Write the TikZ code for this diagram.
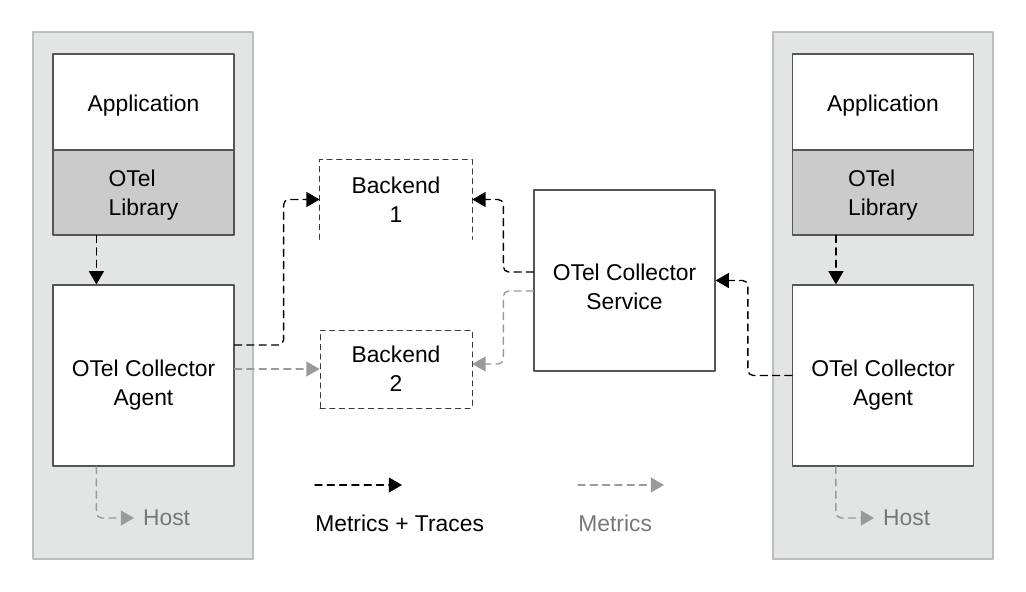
\documentclass[tikz,border=0pt]{standalone}
\usepackage{fontspec}
\setmainfont{Liberation Sans}
\usetikzlibrary{arrows.meta}
\definecolor{panelfill}{HTML}{E3E4E4}
\definecolor{panelline}{HTML}{BEBEBE}
\definecolor{libfill}{HTML}{CBCBCB}
\definecolor{boxline}{HTML}{555555}
\definecolor{bkline}{HTML}{3A3A3A}
\definecolor{metgray}{HTML}{9A9A9A}
\definecolor{txtgray}{HTML}{777777}
\begin{document}
\begin{tikzpicture}[x=0.02cm,y=-0.02cm,line cap=round,line join=round,
  font=\fontsize{13}{16.5}\selectfont,
  panel/.style={draw=panelline,fill=panelfill,line width=0.8pt,minimum width=4.4cm,minimum height=10.54cm,inner sep=0pt},
  box/.style={draw=boxline,fill=white,line width=0.7pt,minimum width=3.62cm,inner sep=0pt},
  boxtext/.style={inner sep=0pt,align=center},
  bedash/.style={draw=bkline,line width=0.5pt,dash pattern=on 3pt off 2.5pt},
  mt/.style={draw=black,line width=0.8pt,dash pattern=on 4pt off 3pt,rounded corners=3pt,
    -{Triangle[length=7.5pt,width=8.5pt]}},
  mo/.style={mt,draw=metgray},
  hosttext/.style={text=txtgray,anchor=west,inner xsep=5pt,inner ysep=0pt}]
  \useasboundingbox (0,0) rectangle (1026,591);
  % hosts
  \node[panel] (panelL) at (143,295.5) {};
  \node[panel] (panelR) at (883,295.5) {};
  \node[box,minimum height=1.92cm] (appL) at (143.5,102) {};
  \node[box,minimum height=1.7cm,fill=libfill] (libL) at (143.5,192.5) {};
  \node[box,minimum height=3.62cm] (agentL) at (143.5,375.5) {};
  \node[box,minimum height=1.92cm] (appR) at (883,102) {};
  \node[box,minimum height=1.7cm,fill=libfill] (libR) at (883,192.5) {};
  \node[box,minimum height=3.62cm] (agentR) at (883,375.5) {};
  \node[boxtext] (appLtext) at ([yshift=-0.08cm]appL.center) {Application};
  \node[boxtext,align=left] (libLtext) at ([yshift=-0.06cm]libL.center) {OTel\\Library};
  \node[boxtext] (agentLtext) at ([yshift=-0.19cm]agentL.center) {OTel Collector\\Agent};
  \node[boxtext] (appRtext) at ([yshift=-0.08cm]appR.center) {Application};
  \node[boxtext,align=left] (libRtext) at ([yshift=-0.06cm]libR.center) {OTel\\Library};
  \node[boxtext] (agentRtext) at ([yshift=-0.19cm]agentR.center) {OTel Collector\\Agent};
  \node[hosttext] (hostL) at (134,518) {Host};
  \node[hosttext] (hostR) at (874,518) {Host};
  % backends and service
  \node[minimum width=3.04cm,minimum height=1.58cm,inner sep=0pt,align=center] (be1) at (396,199.5) {Backend\\1};
  \draw[bedash] (be1.south west) |- (be1.north east) -- (be1.south east);
  \node[bedash,minimum width=3.04cm,minimum height=1.56cm,inner sep=0pt,align=center] (be2) at (396,369) {Backend\\2};
  \node[box,minimum height=3.62cm] (svc) at (624.5,280.5) {};
  \node[boxtext] (svctext) at ([yshift=-0.12cm]svc.center) {OTel Collector\\Service};
  % legend
  \coordinate (mtA) at (315,485);
  \coordinate (mtB) at (402,485);
  \coordinate (moA) at (578,485);
  \coordinate (moB) at (664,485);
  \node[anchor=west,inner sep=0pt] (mtText) at (315,523) {Metrics + Traces};
  \node[anchor=west,inner sep=0pt,text=txtgray] (moText) at (578,523) {Metrics};
  % flows
  \draw[mt] ([xshift=0.88cm]libL.south west) -- ([xshift=0.88cm]agentL.north west);
  \draw[mt] ([xshift=0.88cm]libR.south west) -- ([xshift=0.88cm]agentR.north west);
  \draw[mt] ([yshift=0.61cm]agentL.east) -- ++(49,0) |- (be1.west);
  \draw[mo] (be2.west -| agentL.east) -- (be2.west);
  \draw[mt] ([yshift=0.17cm]svc.west) -- ++(-30,0) |- (be1.east);
  \draw[mo] ([yshift=-0.21cm]svc.west) -- ++(-30,0) |- ([yshift=0.1cm]be2.east);
  \draw[mt] (agentR.west) -- ++(-44,0) |- (svc.east);
  \draw[mo] ([xshift=0.88cm]agentL.south west) |- (hostL.west);
  \draw[mo] ([xshift=0.88cm]agentR.south west) |- (hostR.west);
  \draw[mt] (mtA) -- (mtB);
  \draw[mo] (moA) -- (moB);
\end{tikzpicture}
\end{document}
